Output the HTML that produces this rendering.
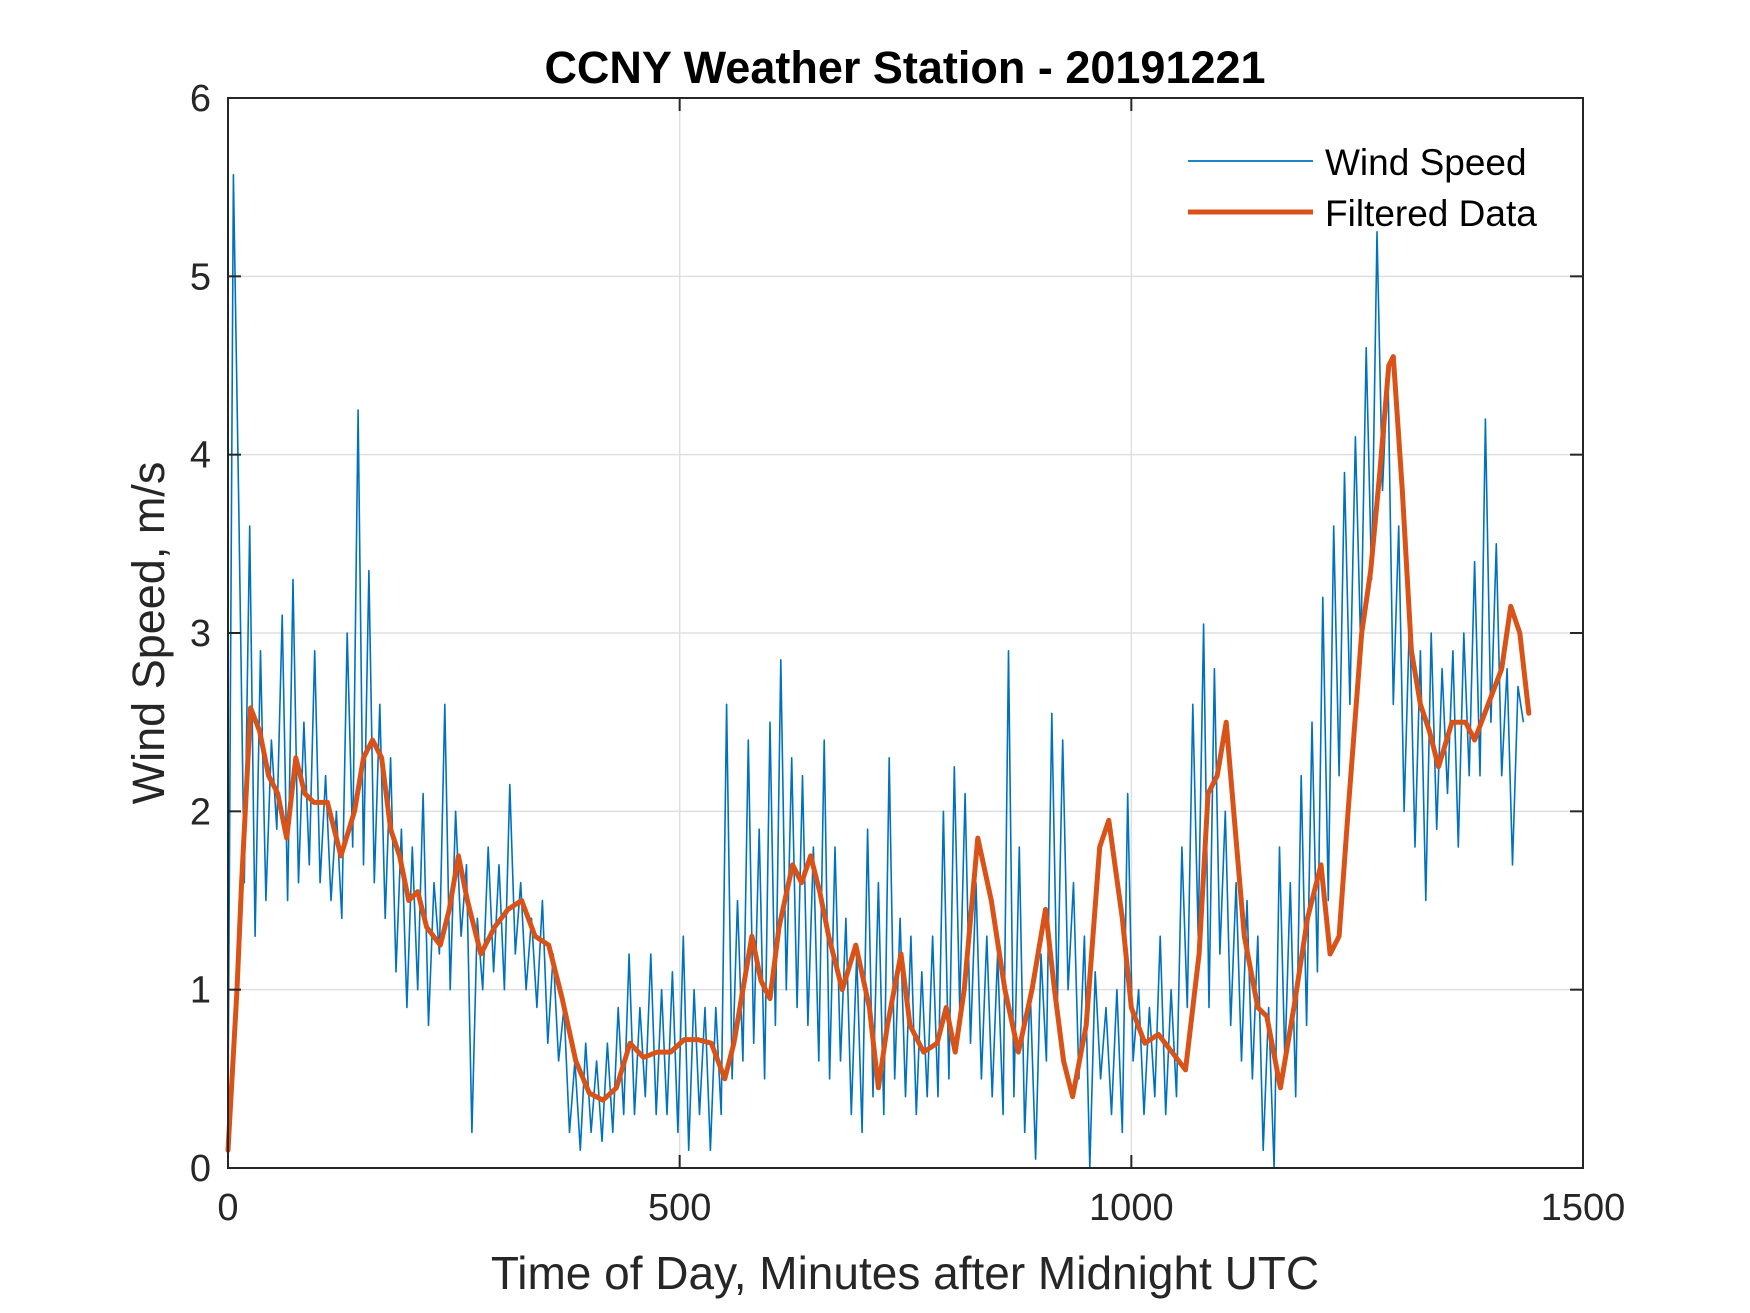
<!DOCTYPE html>
<html><head><meta charset="utf-8"><style>
html,body{margin:0;padding:0;background:#fff;}
svg{display:block;font-family:"Liberation Sans",Arial,sans-serif;}
</style></head><body>
<svg id="chart" width="1750" height="1313" viewBox="0 0 1750 1313">
<rect x="0" y="0" width="1750" height="1313" fill="#fff"/>
<g id="grid"></g>
<g id="series"></g>
<rect x="228" y="98" width="1355" height="1070" fill="none" stroke="#262626" stroke-width="2"/>
<g id="ticks"></g>
<text x="905" y="83" text-anchor="middle" font-size="45" font-weight="bold" fill="#000">CCNY Weather Station - 20191221</text>
<text x="905" y="1289" text-anchor="middle" font-size="46" fill="#262626">Time of Day, Minutes after Midnight UTC</text>
<text transform="translate(164,633) rotate(-90)" text-anchor="middle" font-size="45" fill="#262626">Wind Speed, m/s</text>
<g>
<line x1="1188" y1="161" x2="1313" y2="161" stroke="#0072BD" stroke-width="1.8"/>
<text x="1325" y="175" font-size="37" fill="#000">Wind Speed</text>
<line x1="1188" y1="212" x2="1313" y2="212" stroke="#D95319" stroke-width="5"/>
<text x="1325" y="226" font-size="37" fill="#000">Filtered Data</text>
</g>
</svg>
<script>
const xTicks=[0,500,1000,1500];
const yTicks=[0,1,2,3,4,5,6];
const rawStep=6;
const rawValues=[
0.3,5.57,3.7,1.6,3.6,1.3,2.9,1.5,2.4,1.9,
3.1,1.5,3.3,1.6,2.5,1.7,2.9,1.6,2.2,1.5,
2.0,1.4,3.0,1.8,4.25,1.7,3.35,1.6,2.6,1.4,
2.3,1.1,1.9,0.9,1.8,1.0,2.1,0.8,1.6,1.2,
2.6,1.0,2.0,1.3,1.7,0.2,1.4,1.0,1.8,1.1,
1.7,1.0,2.15,1.2,1.6,1.0,1.4,0.9,1.5,0.7,
1.2,0.6,0.9,0.2,0.6,0.1,0.7,0.2,0.6,0.15,
0.7,0.2,0.9,0.3,1.2,0.3,0.9,0.4,1.2,0.3,
1.0,0.3,1.1,0.2,1.3,0.1,1.0,0.3,0.9,0.1,
0.9,0.3,2.6,0.5,1.5,0.6,2.4,0.7,1.9,0.5,
2.5,0.8,2.85,1.0,2.3,0.9,2.2,0.8,1.8,0.6,
2.4,0.5,1.8,0.6,1.4,0.3,1.2,0.2,1.9,0.4,
1.6,0.3,2.3,0.5,1.4,0.4,1.3,0.3,1.1,0.4,
1.3,0.4,2.0,0.5,2.25,0.9,2.1,0.7,1.6,0.5,
1.3,0.4,1.2,0.3,2.9,0.4,1.8,0.2,1.0,0.05,
1.2,0.6,2.55,0.9,2.4,1.0,1.6,0.5,1.3,0.0,
1.1,0.5,0.9,0.3,1.0,0.2,2.1,0.6,1.0,0.3,
0.9,0.4,1.3,0.3,1.0,0.4,1.8,0.9,2.6,1.3,
3.05,0.9,2.8,1.2,2.0,0.8,1.6,0.6,1.5,0.5,
1.3,0.1,0.9,0.0,1.8,0.6,1.6,0.4,2.2,0.8,
2.5,1.1,3.2,1.5,3.6,2.2,3.9,2.6,4.1,2.9,
4.6,3.3,5.25,3.8,4.5,2.6,3.6,2.0,3.1,1.8,
2.9,1.5,3.0,1.9,2.8,2.1,2.9,1.8,3.0,2.2,
3.4,2.2,4.2,2.5,3.5,2.2,2.8,1.7,2.7,2.5];
const filtMinutes=[0,10,15,25,35,45,55,65,75,85,95,110,125,140,150,160,170,180,190,200,210,220,235,245,255,265,280,295,310,325,340,355,370,385,400,415,430,445,460,475,490,505,520,535,550,560,570,580,590,600,610,625,635,645,655,665,680,695,710,720,730,745,755,770,785,795,805,815,830,845,860,875,890,905,915,925,935,950,965,975,990,1000,1015,1030,1045,1060,1075,1085,1095,1105,1115,1125,1140,1150,1165,1180,1195,1210,1220,1230,1240,1255,1265,1275,1285,1290,1300,1310,1320,1330,1340,1355,1370,1380,1395,1410,1420,1430,1440];
const filtValues=[0.1,1.0,1.6,2.58,2.45,2.2,2.1,1.85,2.3,2.1,2.05,2.05,1.75,2.0,2.3,2.4,2.3,1.9,1.75,1.5,1.55,1.35,1.25,1.45,1.75,1.5,1.2,1.35,1.45,1.5,1.3,1.25,0.95,0.6,0.42,0.38,0.45,0.7,0.62,0.65,0.65,0.72,0.72,0.7,0.5,0.7,1.0,1.3,1.05,0.95,1.35,1.7,1.6,1.75,1.55,1.3,1.0,1.25,0.9,0.45,0.8,1.2,0.8,0.65,0.7,0.9,0.65,1.0,1.85,1.5,1.0,0.65,1.0,1.45,1.0,0.6,0.4,0.8,1.8,1.95,1.4,0.9,0.7,0.75,0.65,0.55,1.2,2.1,2.2,2.5,1.9,1.3,0.9,0.85,0.45,0.9,1.4,1.7,1.2,1.3,2.0,3.0,3.35,3.9,4.5,4.55,3.8,2.9,2.6,2.45,2.25,2.5,2.5,2.4,2.6,2.8,3.15,3.0,2.55];

const L=228,R=1583,T=98,B=1168;
function xs(v){return L+(v-0)/(1500-0)*(R-L);}
function ys(v){return B-(v-0)/(6-0)*(B-T);}
const NS="http://www.w3.org/2000/svg";
function mk(tag,attrs,parent){const e=document.createElementNS(NS,tag);for(const k in attrs)e.setAttribute(k,attrs[k]);parent.appendChild(e);return e;}
const grid=document.getElementById('grid'),ticks=document.getElementById('ticks'),series=document.getElementById('series');
xTicks.forEach(t=>{
  const x=xs(t);
  if(t>0&&t<1500){const g=mk('line',{x1:x,y1:T,x2:x,y2:B,stroke:'#dfdfdf','stroke-width':1.5},grid);
  
  }
  const a=mk('line',{x1:x,y1:B,x2:x,y2:B-13,stroke:'#262626','stroke-width':2},ticks);
  
  
  const b=mk('line',{x1:x,y1:T,x2:x,y2:T+13,stroke:'#262626','stroke-width':2},ticks);
  
  
  const tx=mk('text',{x:x,y:B+52,'text-anchor':'middle','font-size':38,fill:'#262626'},ticks);
  tx.textContent=t;
  
  
});
yTicks.forEach(t=>{
  const y=ys(t);
  if(t>0&&t<6){const g=mk('line',{x1:L,y1:y,x2:R,y2:y,stroke:'#dfdfdf','stroke-width':1.5},grid);
  
  }
  const a=mk('line',{x1:L,y1:y,x2:L+13,y2:y,stroke:'#262626','stroke-width':2},ticks);
  
  
  const b=mk('line',{x1:R,y1:y,x2:R-13,y2:y,stroke:'#262626','stroke-width':2},ticks);
  
  
  const tx=mk('text',{x:L-17,y:y+13,'text-anchor':'end','font-size':38,fill:'#262626'},ticks);
  tx.textContent=t;
  
  
});
const rawPts=rawValues.map((v,i)=>xs(i*rawStep).toFixed(1)+','+ys(v).toFixed(1)).join(' ');
const raw=mk('polyline',{points:rawPts,fill:'none',stroke:'#0072BD','stroke-width':1.6,'stroke-linejoin':'round'},series);


const fPts=filtValues.map((v,i)=>xs(filtMinutes[i]).toFixed(1)+','+ys(v).toFixed(1)).join(' ');
const filt=mk('polyline',{points:fPts,fill:'none',stroke:'#D95319','stroke-width':5,'stroke-linejoin':'round','stroke-linecap':'round'},series);


</script>
</body></html>
